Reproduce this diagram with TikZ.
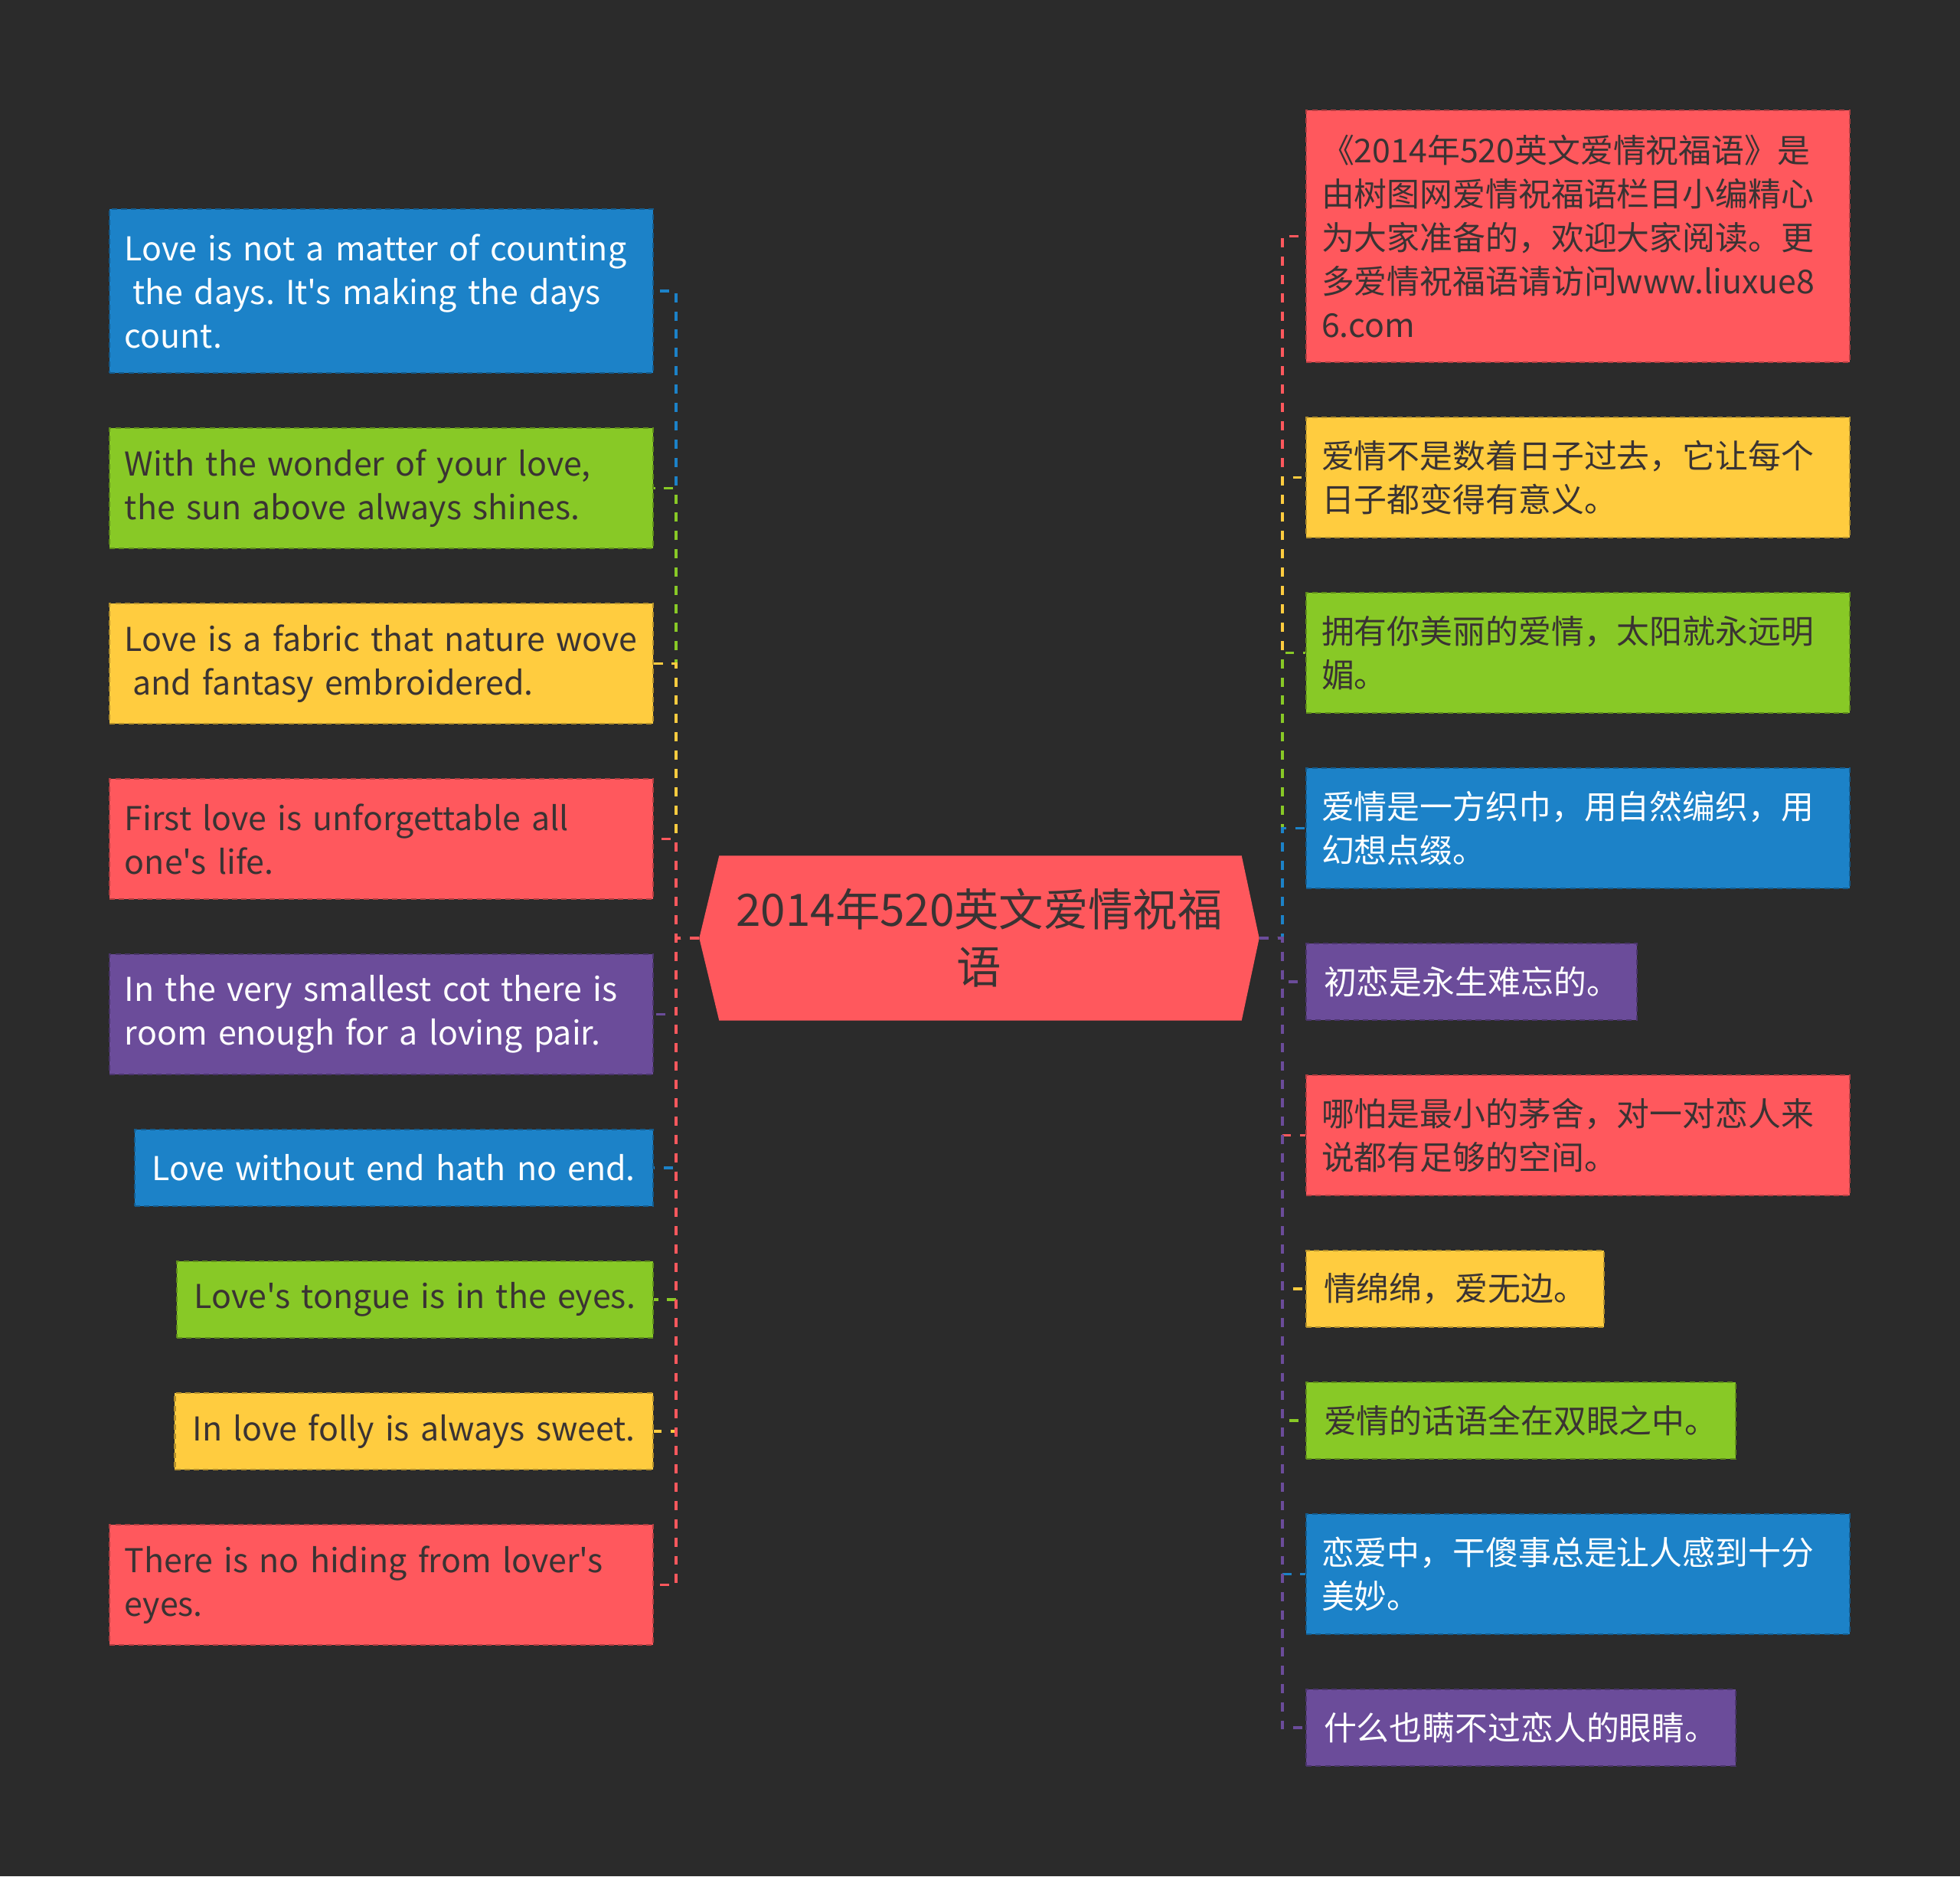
\documentclass[tikz,border=0pt]{standalone}
\usepackage{fontspec}
\newfontfamily\zhfont{Noto Sans CJK SC}
\newcommand\leaffont{\zhfont\fontsize{12.2}{16.2}\selectfont\frenchspacing\spaceskip=4.06pt\relax}
\definecolor{bgdark}{HTML}{2B2B2B}
\definecolor{mred}{HTML}{FF585D}
\definecolor{mblue}{HTML}{1C82C8}
\definecolor{mgreen}{HTML}{88C926}
\definecolor{myellow}{HTML}{FFCC3F}
\definecolor{mpurple}{HTML}{6B4C9A}
\definecolor{txtdark}{HTML}{3A3333}
\pgfdeclarelayer{bg}\pgfsetlayers{bg,main}
\tikzset{
  leaf/.style={fill=#1,draw=#1!70!black,dash pattern=on 2pt off 1.5pt,line width=.6pt,
    align=left,inner xsep=.23cm,inner ysep=0pt,text=txtdark,font=\leaffont},
  lleaf/.style={leaf=#1,anchor=east},
  rleaf/.style={leaf=#1,anchor=west},
  wide/.style={inner xsep=.20cm,text width=6.70cm,minimum height=#1},
  light/.style={text=white},
  conn/.style={draw=#1,line width=1.1pt,dash pattern=on 3.4pt off 3.4pt},
}
\begin{document}
\begin{tikzpicture}[x=1cm,y=-1cm]
\useasboundingbox (0,0) rectangle (25.6,24.5);
\node[text=txtdark,align=center,minimum width=7.30cm,minimum height=2.14cm,
  font=\zhfont\fontsize{16.6}{21.3}\selectfont] (root) at (12.79,12.25) {2014年520英文爱情祝福\\语};
% left side
\node[lleaf=mblue,light,wide=2.14cm] (l1) at (8.54,3.80) {Love is not a matter of counting\\\hspace*{.25em}the days. It's making the days\\count.};
\node[lleaf=mgreen,wide=1.57cm] (l2) at (8.54,6.375) {With the wonder of your love,\\the sun above always shines.};
\node[lleaf=myellow,wide=1.57cm] (l3) at (8.54,8.665) {Love is a fabric that nature wove\\\hspace*{.25em}and fantasy embroidered.};
\node[lleaf=mred,wide=1.57cm] (l4) at (8.54,10.955) {First love is unforgettable all\\one's life.};
\node[lleaf=mpurple,light,wide=1.57cm] (l5) at (8.54,13.245) {In the very smallest cot there is\\room enough for a loving pair.};
\node[lleaf=mblue,light,minimum height=1.00cm] (l6) at (8.54,15.25) {Love without end hath no end.};
\node[lleaf=mgreen,minimum height=1.00cm] (l7) at (8.54,16.97) {Love's tongue is in the eyes.};
\node[lleaf=myellow,minimum height=1.00cm] (l8) at (8.54,18.69) {In love folly is always sweet.};
\node[lleaf=mred,wide=1.57cm] (l9) at (8.54,20.695) {There is no hiding from lover's\\eyes.};
% right side
\node[rleaf=mred,wide=3.29cm] (r1) at (17.05,3.085) {《2014年520英文爱情祝福语》是\\由树图网爱情祝福语栏目小编精心\\为大家准备的，欢迎大家阅读。更\\多爱情祝福语请访问www.liuxue8\\6.com};
\node[rleaf=myellow,wide=1.57cm] (r2) at (17.05,6.235) {爱情不是数着日子过去，它让每个\\日子都变得有意义。};
\node[rleaf=mgreen,wide=1.57cm] (r3) at (17.05,8.525) {拥有你美丽的爱情，太阳就永远明\\媚。};
\node[rleaf=mblue,light,wide=1.57cm] (r4) at (17.05,10.815) {爱情是一方织巾，用自然编织，用\\幻想点缀。};
\node[rleaf=mpurple,light,minimum height=1.00cm] (r5) at (17.05,12.82) {初恋是永生难忘的。};
\node[rleaf=mred,wide=1.57cm] (r6) at (17.05,14.825) {哪怕是最小的茅舍，对一对恋人来\\说都有足够的空间。};
\node[rleaf=myellow,minimum height=1.00cm] (r7) at (17.05,16.83) {情绵绵，爱无边。};
\node[rleaf=mgreen,minimum height=1.00cm] (r8) at (17.05,18.55) {爱情的话语全在双眼之中。};
\node[rleaf=mblue,light,wide=1.57cm] (r9) at (17.05,20.555) {恋爱中，干傻事总是让人感到十分\\美妙。};
\node[rleaf=mpurple,light,minimum height=1.00cm] (r10) at (17.05,22.56) {什么也瞒不过恋人的眼睛。};
\begin{pgfonlayer}{bg}
\fill[bgdark] (0,0) rectangle (25.6,24.5);
\fill[mred] (root.west) -- ([xshift=.26cm]root.north west) -- ([xshift=-.23cm]root.north east)
  -- (root.east) -- ([xshift=-.23cm]root.south east) -- ([xshift=.26cm]root.south west) -- cycle;
\end{pgfonlayer}
% connectors, top to bottom
\foreach \n/\c in {l1/mblue,l2/mgreen,l3/myellow,l4/mred,l5/mpurple,l6/mblue,l7/mgreen,l8/myellow,l9/mred}
  \draw[conn=\c] (root.west) -- ++(-.30,0) |- (\n.east);
\foreach \n/\c in {r1/mred,r2/myellow,r3/mgreen,r4/mblue,r5/mpurple,r6/mred,r7/myellow,r8/mgreen,r9/mblue,r10/mpurple}
  \draw[conn=\c] (root.east) -- ++(.30,0) |- (\n.west);
\end{tikzpicture}
\end{document}
